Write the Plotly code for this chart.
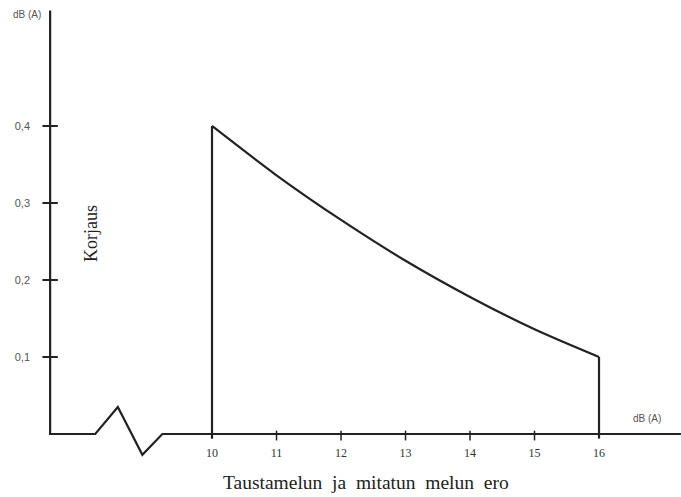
import plotly.graph_objects as go

# Background-noise difference (dB(A)) and the corresponding correction
diff_db = [10, 11, 12, 13, 14, 15, 16]
correction = [0.40, 0.336, 0.278, 0.225, 0.178, 0.136, 0.10]

x_tick_vals = [10, 11, 12, 13, 14, 15, 16]
x_tick_text = ["10", "11", "12", "13", "14", "15", "16"]
y_tick_vals = [0.1, 0.2, 0.3, 0.4]
y_tick_text = ["0,1", "0,2", "0,3", "0,4"]

# Hand-drawn axes: vertical axis, baseline with a zig-zag axis break
axis_x = [7.49, 7.49, 8.19, 8.54, 8.92, 9.23, 17.27]
axis_y = [0.55, 0.0, 0.0, 0.035, -0.027, 0.0, 0.0]

X_RANGE = [6.713, 17.271]
Y_RANGE = [-0.0818, 0.5636]
W, H = 681, 497
INK = "#222222"

fig = go.Figure()

fig.add_trace(go.Scatter(x=axis_x, y=axis_y, mode="lines",
                         line=dict(color=INK, width=2.2), hoverinfo="skip"))

# vertical drops at both ends of the curve
for xe, ye in [(diff_db[0], correction[0]), (diff_db[-1], correction[-1])]:
    fig.add_trace(go.Scatter(x=[xe, xe], y=[-0.006, ye], mode="lines",
                             line=dict(color=INK, width=2.2), hoverinfo="skip"))

fig.add_trace(go.Scatter(x=diff_db, y=correction, mode="lines",
                         line=dict(color=INK, width=2.2, shape="spline", smoothing=0.8)))

# tick marks
fig.add_trace(go.Scatter(x=[axis_x[0]] * len(y_tick_vals), y=y_tick_vals, mode="markers",
                         marker=dict(symbol="line-ew", size=11,
                                     line=dict(color=INK, width=2)), hoverinfo="skip"))
fig.add_trace(go.Scatter(x=x_tick_vals[1:-1], y=[-0.002] * 5, mode="markers",
                         marker=dict(symbol="line-ns", size=7,
                                     line=dict(color=INK, width=1.5)), hoverinfo="skip"))

fig.update_layout(
    width=W, height=H,
    margin=dict(l=0, r=0, t=0, b=0),
    paper_bgcolor="white", plot_bgcolor="white",
    showlegend=False,
    xaxis=dict(range=X_RANGE, anchor="free", position=(H - 434) / H,
               showgrid=False, zeroline=False, showline=False, ticks="",
               tickvals=x_tick_vals, ticktext=x_tick_text,
               tickfont=dict(family="Liberation Serif", size=12, color="#333"),
               ticklabelstandoff=10),
    yaxis=dict(range=Y_RANGE, anchor="free", position=50 / W, side="left",
               showgrid=False, zeroline=False, showline=False, ticks="",
               tickvals=y_tick_vals, ticktext=y_tick_text,
               tickfont=dict(family="Liberation Sans Narrow, Liberation Sans", size=11, color="#555"),
               ticklabelstandoff=20),
)

def label(text, px, py, size, family, color, angle=0):
    fig.add_annotation(x=px / W, y=1 - py / H, xref="paper", yref="paper",
                       text=text, showarrow=False, xanchor="center", yanchor="middle",
                       textangle=angle, font=dict(family=family, size=size, color=color))

gap = "\u00a0\u00a0"
label("dB (A)", 27, 15, 10, "Liberation Sans Narrow, Liberation Sans", "#555")
label("dB (A)", 647, 418, 10, "Liberation Sans Narrow, Liberation Sans", "#555")
label("Korjaus", 91, 234, 18, "Liberation Serif", "#222", angle=-90)
label(gap.join(["Taustamelun", "ja", "mitatun", "melun", "ero"]), 366, 482, 19.5,
      "Liberation Serif", "#222")

fig.write_html("out.html")
